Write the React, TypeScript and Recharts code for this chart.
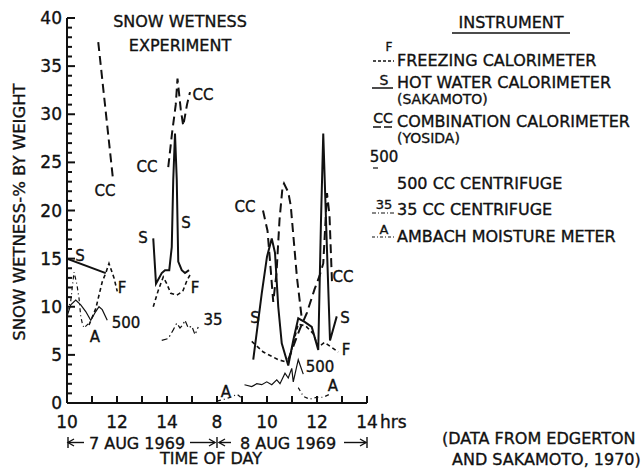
import { LineChart, Line, XAxis, YAxis, ReferenceDot } from 'recharts';

// time axis: day 1 hours 10..14 sit at 10..14, day 2 hour h sits at h + 8
const X_TICKS = [10, 11, 12, 13, 14, 15, 16, 17, 18, 19, 20, 21, 22];
const X_TICK_LABELS = ['10', '', '12', '', '14', '', '8', '', '10', '', '12', '', '14'];
const Y_MAJOR = [0, 5, 10, 15, 20, 25, 30, 35, 40];
const Y_TICKS = Array.from({ length: 41 }, (_, i) => i);

// hot water calorimeter (S)
const S_DAY1_A = [[10.0, 15.0], [11.55, 13.5]];
const S_DAY1_B = [[13.45, 17.1], [13.56, 12.4], [13.79, 13.5], [13.92, 13.8], [14.09, 13.8], [14.19, 16.2], [14.25, 23.2], [14.32, 28], [14.39, 23.2], [14.45, 14.7], [14.59, 13.8], [14.72, 13.5], [14.88, 13.8]];
const S_DAY2 = [[17.45, 4.5], [17.79, 11.4], [18.0, 15.2], [18.19, 17.1], [18.32, 15.6], [18.45, 10.0], [18.59, 6.2], [18.85, 3.9], [19.05, 6.5], [19.25, 8.8], [19.52, 8.4], [19.79, 7.9], [20.05, 5.5], [20.16, 19], [20.25, 28], [20.36, 19], [20.52, 6.5], [20.79, 9.0]];

// freezing calorimeter (F)
const F_DAY1_A = [[10.88, 8.1], [11.15, 9.8], [11.41, 12.6], [11.55, 13.5], [11.68, 14.5], [11.88, 13.0], [12.01, 11.6]];
const F_DAY1_B = [[13.45, 10.0], [13.65, 11.7], [13.85, 13.1], [13.99, 12.4], [14.15, 11.4], [14.39, 11.2], [14.63, 11.6], [14.81, 12.8], [14.92, 13.3]];
const F_DAY2 = [[17.39, 6.4], [17.85, 5.3], [18.45, 4.5], [18.85, 4.2], [19.25, 8.2], [19.55, 8.0], [19.85, 7.2], [20.05, 5.8], [20.3, 6.3], [20.85, 5.3]];

// combination calorimeter (CC)
const CC_DAY1_A = [[11.25, 37.5], [11.83, 23.5]];
const CC_DAY1_B = [[14.05, 24.5], [14.2, 28], [14.35, 31], [14.42, 33.7], [14.55, 30.5], [14.65, 28.8], [14.8, 31], [14.92, 32.3]];
const CC_DAY2_A = [[17.84, 20.0], [18.02, 17.9], [18.15, 13.8], [18.25, 10.5], [18.38, 13.5], [18.5, 19], [18.62, 22.4], [18.68, 22.8], [18.85, 21.9], [18.95, 20.5], [19.05, 17.5], [19.2, 13], [19.4, 8.6]];
const CC_DAY2_B = [[18.85, 4.5], [19.3, 7.6], [19.6, 9.4], [19.9, 11.8], [20.1, 13.2], [20.25, 14.5], [20.4, 21.8], [20.5, 19.5], [20.6, 12.5]];

// 500 cc centrifuge
const C500_DAY1 = [[10.0, 9.0], [10.15, 10.2], [10.35, 10.7], [10.55, 10.2], [10.75, 9.5], [10.95, 8.6], [11.15, 9.5], [11.28, 10.0], [11.41, 9.7], [11.61, 8.6]];
const C500_DAY2 = [[17.1, 1.9], [17.39, 1.7], [17.59, 2.0], [17.79, 1.9], [17.99, 2.2], [18.19, 1.9], [18.39, 2.4], [18.52, 2.0], [18.72, 3.1], [18.85, 2.6], [18.99, 3.6], [19.05, 2.2], [19.25, 4.5], [19.45, 3.0]];

// 35 cc centrifuge
const C35_DAY1 = [[13.79, 6.5], [14.05, 6.7], [14.25, 7.6], [14.39, 8.3], [14.52, 7.8], [14.63, 8.1], [14.72, 8.6], [14.85, 7.8], [14.99, 8.0], [15.12, 7.1], [15.25, 7.9]];

// ambach moisture meter (A)
const A_DAY1 = [[10.0, 9.5], [10.15, 10.6], [10.28, 13.6], [10.39, 12.4], [10.48, 10.9], [10.55, 9.0], [10.61, 8.3], [10.68, 7.8], [10.88, 8.3]];
const A_DAY2_A = [[16.0, 0.2], [16.3, 0.4], [16.55, 0.6], [16.8, 0.9], [16.95, 0.6]];
const A_DAY2_B = [[19.25, 1.6], [19.45, 0.7], [19.7, 0.4], [20.0, 0.6], [20.25, 0.6], [20.5, 0.9]];

// curve tags written on the plot
const TAGS: [number, number, string][] = [
  [10.52, 15.3, 'S'], [12.2, 12.0, 'F'], [11.12, 6.9, 'A'], [12.36, 8.3, '500'], [11.52, 22.0, 'CC'],
  [13.04, 17.1, 'S'], [14.76, 18.7, 'S'], [13.2, 24.5, 'CC'], [15.44, 32.0, 'CC'], [15.12, 12.0, 'F'],
  [15.84, 8.6, '35'], [17.12, 20.4, 'CC'], [17.52, 8.8, 'S'], [21.12, 8.8, 'S'], [21.16, 5.5, 'F'],
  [21.04, 13.1, 'CC'], [20.12, 3.7, '500'], [16.36, 1.1, 'A'], [20.64, 1.8, 'A'],
];

const pts = (a: number[][]) => a.map(([t, v]) => ({ t, v }));

const INK = '#111';
const FONT = '"DejaVu Sans", sans-serif';
const TM = 6;

// plot box (matches the chart margins below)
const W = 641;
const H = 471;
const M = { top: 18, right: 274, bottom: 38, left: 0 };
const Y_AXIS_W = 67;
const X_AXIS_H = 30;
const PLOT_L = M.left + Y_AXIS_W;
const PLOT_R = W - M.right;
const PLOT_T = M.top;
const PLOT_B = H - M.bottom - X_AXIS_H;
const sx = (t: number) => PLOT_L + ((t - 10) / 12) * (PLOT_R - PLOT_L);
const sy = (v: number) => PLOT_B - (v / 40) * (PLOT_B - PLOT_T);

const styleS = { stroke: INK, strokeWidth: 2 };
const styleF = { stroke: INK, strokeWidth: 1.6, strokeDasharray: '4 3' };
const styleCC = { stroke: INK, strokeWidth: 2, strokeDasharray: '9 5' };
const style500 = { stroke: INK, strokeWidth: 1.2 };
const style35 = { stroke: INK, strokeWidth: 1.2, strokeDasharray: '6 3 1.5 3' };
const styleA = { stroke: INK, strokeWidth: 1.2, strokeDasharray: '4 3 1 3' };

const SERIES = [
  { data: S_DAY1_A, s: styleS }, { data: S_DAY1_B, s: styleS }, { data: S_DAY2, s: styleS },
  { data: F_DAY1_A, s: styleF }, { data: F_DAY1_B, s: styleF }, { data: F_DAY2, s: styleF },
  { data: CC_DAY1_A, s: styleCC }, { data: CC_DAY1_B, s: styleCC }, { data: CC_DAY2_A, s: styleCC }, { data: CC_DAY2_B, s: styleCC },
  { data: C500_DAY1, s: style500 }, { data: C500_DAY2, s: style500 },
  { data: C35_DAY1, s: style35 },
  { data: A_DAY1, s: styleA }, { data: A_DAY2_A, s: styleA }, { data: A_DAY2_B, s: styleA },
];

// heavier lettering, like the hand-lettered original
const ink = { fill: INK, stroke: INK, strokeWidth: 0.35, fontFamily: FONT };

const YTick = (props: any) => {
  const { x, y, payload } = props;
  if (!Y_MAJOR.includes(payload.value)) return <g />;
  return (
    <text x={Number(x) + 1} y={y} textAnchor="end" dominantBaseline="central" fontSize={17} {...ink}>
      {payload.value}
    </text>
  );
};

const XTick = (props: any) => {
  const { x, y, payload } = props;
  const label = X_TICK_LABELS[X_TICKS.indexOf(payload.value)];
  const last = payload.value === X_TICKS[X_TICKS.length - 1];
  const ty = Number(y) - TM + 19;
  return (
    <g>
      {label && (
        <text x={x} y={ty} textAnchor="middle" dominantBaseline="central" fontSize={17} {...ink}>
          {label}
        </text>
      )}
      {last && (
        <text x={Number(x) + 13} y={ty} textAnchor="start" dominantBaseline="central" fontSize={17} {...ink}>
          hrs
        </text>
      )}
    </g>
  );
};

const Tag = (text: string) => (p: any) => (
  <text x={p.cx} y={p.cy} textAnchor="middle" dominantBaseline="central" fontSize={15} {...ink}>
    {text}
  </text>
);

const txt = { ...ink, fontSize: 16 };

const Overlay = () => (
  <svg width={W} height={H} style={{ position: 'absolute', left: 0, top: 0, pointerEvents: 'none' }}>
    {/* inward tick marks */}
    <g stroke={INK} strokeWidth={2}>
      {Y_TICKS.map((v) => (
        <line key={'y' + v} x1={PLOT_L} x2={PLOT_L + (Y_MAJOR.includes(v) ? 8 : 5)} y1={sy(v)} y2={sy(v)} />
      ))}
      {X_TICKS.map((t) => (
        <line key={'x' + t} x1={sx(t)} x2={sx(t)} y1={PLOT_B} y2={PLOT_B - 7} />
      ))}
    </g>

    <text x={180} y={21} textAnchor="middle" dominantBaseline="central" {...txt}>SNOW WETNESS</text>
    <text x={180} y={45} textAnchor="middle" dominantBaseline="central" {...txt}>EXPERIMENT</text>
    <text x={19} y={212} textAnchor="middle" dominantBaseline="central" transform="rotate(-90 19 212)" {...txt} fontSize={16.5}>
      SNOW WETNESS-% BY WEIGHT
    </text>

    {/* legend */}
    <text x={511} y={22} textAnchor="middle" dominantBaseline="central" {...txt}>INSTRUMENT</text>
    <line x1={452} x2={570} y1={33} y2={33} stroke={INK} strokeWidth={1.3} />

    <text x={389} y={47} textAnchor="middle" dominantBaseline="central" {...txt} fontSize={12}>F</text>
    <line x1={373} x2={394} y1={61} y2={61} stroke={INK} strokeWidth={1.3} strokeDasharray="3 2" />
    <text x={397} y={60} dominantBaseline="central" {...txt}>FREEZING CALORIMETER</text>

    <text x={384} y={80} textAnchor="middle" dominantBaseline="central" {...txt} fontSize={14}>S</text>
    <line x1={372} x2={393} y1={88} y2={88} stroke={INK} strokeWidth={1.5} />
    <text x={397} y={82} dominantBaseline="central" {...txt}>HOT WATER CALORIMETER</text>
    <text x={397} y={99} dominantBaseline="central" {...txt} fontSize={14}>(SAKAMOTO)</text>

    <text x={383} y={118} textAnchor="middle" dominantBaseline="central" {...txt} fontSize={14}>CC</text>
    <line x1={373} x2={394} y1={127} y2={127} stroke={INK} strokeWidth={1.5} strokeDasharray="8 3" />
    <text x={397} y={121} dominantBaseline="central" {...txt}>COMBINATION CALORIMETER</text>
    <text x={397} y={138} dominantBaseline="central" {...txt} fontSize={14}>(YOSIDA)</text>

    <text x={384} y={157} textAnchor="middle" dominantBaseline="central" {...txt} fontSize={15}>500</text>
    <line x1={373} x2={378} y1={168} y2={168} stroke={INK} strokeWidth={1.2} />
    <text x={397} y={183} dominantBaseline="central" {...txt}>500 CC CENTRIFUGE</text>

    <text x={384} y={204} textAnchor="middle" dominantBaseline="central" {...txt} fontSize={13}>35</text>
    <line x1={372} x2={394} y1={213} y2={213} stroke={INK} strokeWidth={1.2} strokeDasharray="4 2 1 2" />
    <text x={397} y={209} dominantBaseline="central" {...txt}>35 CC CENTRIFUGE</text>

    <text x={384} y={229} textAnchor="middle" dominantBaseline="central" {...txt} fontSize={13}>A</text>
    <line x1={372} x2={394} y1={237} y2={237} stroke={INK} strokeWidth={1.2} strokeDasharray="3 2 1 2" />
    <text x={397} y={236} dominantBaseline="central" {...txt}>AMBACH MOISTURE METER</text>

    {/* date ranges under the axis */}
    <g stroke={INK} strokeWidth={1.4}>
      <line x1={68} x2={68} y1={437} y2={448} />
      <line x1={68} x2={84} y1={442.5} y2={442.5} />
      <polyline points="74,439 68,442.5 74,446" fill="none" />
      <line x1={190} x2={215} y1={442.5} y2={442.5} />
      <polyline points="209,439 215,442.5 209,446" fill="none" />
      <line x1={217} x2={217} y1={437} y2={448} />
      <line x1={219} x2={231} y1={442.5} y2={442.5} />
      <polyline points="225,439 219,442.5 225,446" fill="none" />
      <line x1={344} x2={366} y1={442.5} y2={442.5} />
      <polyline points="360,439 366,442.5 360,446" fill="none" />
      <line x1={367} x2={367} y1={437} y2={448} />
    </g>
    <text x={137} y={443} textAnchor="middle" dominantBaseline="central" {...txt}>7 AUG 1969</text>
    <text x={288} y={443} textAnchor="middle" dominantBaseline="central" {...txt}>8 AUG 1969</text>
    <text x={211} y={458} textAnchor="middle" dominantBaseline="central" {...txt}>TIME OF DAY</text>

    <text x={442} y={438} dominantBaseline="central" {...txt}>(DATA FROM EDGERTON</text>
    <text x={452} y={459} dominantBaseline="central" {...txt}>AND SAKAMOTO, 1970)</text>
  </svg>
);

export default function App() {
  return (
    <div style={{ position: 'relative', width: W, height: H, background: '#fff', fontFamily: FONT }}>
      <style>{'body{margin:0;background:#fff}'}</style>
      <LineChart width={W} height={H} margin={M}>
        <XAxis
          type="number"
          dataKey="t"
          domain={[10, 22]}
          ticks={X_TICKS}
          interval={0}
          allowDataOverflow
          height={X_AXIS_H}
          tickSize={0}
          tickMargin={TM}
          tickLine={false}
          axisLine={{ stroke: INK, strokeWidth: 2 }}
          tick={<XTick />}
        />
        <YAxis
          type="number"
          dataKey="v"
          domain={[0, 40]}
          ticks={Y_TICKS}
          interval={0}
          allowDataOverflow
          width={Y_AXIS_W}
          tickSize={0}
          tickMargin={TM}
          tickLine={false}
          axisLine={{ stroke: INK, strokeWidth: 2 }}
          tick={<YTick />}
        />
        {SERIES.map((sr, i) => (
          <Line
            key={i}
            data={pts(sr.data)}
            dataKey="v"
            type="linear"
            dot={false}
            activeDot={false}
            isAnimationActive={false}
            {...sr.s}
          />
        ))}
        {TAGS.map(([t, v, text], i) => (
          <ReferenceDot key={'tag' + i} x={t} y={v} r={0} ifOverflow="visible" shape={Tag(text)} />
        ))}
      </LineChart>
      <Overlay />
    </div>
  );
}
